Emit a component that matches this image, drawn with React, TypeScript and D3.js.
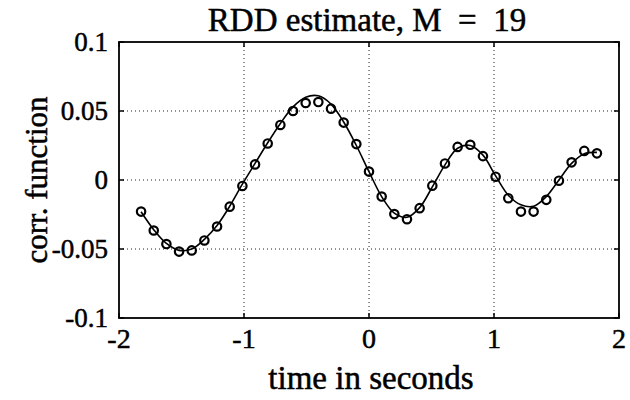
import React from "react";
import * as d3 from "d3";

const lags = d3.range(-18, 19);
const dt = 0.1013;
const estimate = [
  -0.0229, -0.0366, -0.0464, -0.0519, -0.051, -0.0438, -0.0337, -0.0193, -0.0043,
  0.0113, 0.0265, 0.0399, 0.05, 0.0558, 0.0565, 0.0517, 0.0416, 0.026, 0.0061,
  -0.012, -0.0247, -0.0284, -0.0204, -0.0041, 0.012, 0.024, 0.0255, 0.0173, 0.0024,
  -0.0132, -0.0229, -0.0229, -0.0144, -0.0005, 0.0128, 0.0211, 0.0193,
];
const theory = [
  -0.023, -0.036, -0.046, -0.051, -0.05, -0.043, -0.033, -0.019, -0.003,
  0.012, 0.027, 0.041, 0.053, 0.06, 0.061, 0.055, 0.042, 0.025, 0.006,
  -0.012, -0.024, -0.027, -0.02, -0.005, 0.011, 0.023, 0.025, 0.018, 0.003,
  -0.011, -0.018, -0.019, -0.012, 0.0, 0.012, 0.019, 0.020,
];
const xTicks = [-2, -1, 0, 1, 2];
const yTicks = [-0.1, -0.05, 0, 0.05, 0.1];
const yTickLabels = ["-0.1", "-0.05", "0", "0.05", "0.1"];
const title = "RDD estimate, M\u2002=\u200219";
const xLabel = "time in seconds";
const yLabel = "corr. function";

export default function App() {
  const W = 630, H = 400;
  const x = d3.scaleLinear().domain([-2, 2]).range([119, 619]);
  const y = d3.scaleLinear().domain([-0.1, 0.1]).range([318, 42]);
  const times = lags.map((k) => k * dt);
  const line = d3
    .line<number>()
    .x((_, i) => x(times[i]))
    .y((d) => y(d))
    .curve(d3.curveCatmullRom.alpha(0.5));
  const ts: React.CSSProperties = { fontFamily: "Liberation Serif, Times New Roman, serif" };
  const tl = 5;
  return (
    <svg width={W} height={H} style={{ position: "absolute", left: 0, top: 0, background: "#fff" }}>
      <rect x={0} y={0} width={W} height={H} fill="#fff" />
      {xTicks.slice(1, -1).map((t) => (
        <line key={"gx" + t} x1={x(t)} x2={x(t)} y1={y(0.1)} y2={y(-0.1)} stroke="#222" strokeWidth={1} strokeDasharray="1,3" />
      ))}
      {yTicks.slice(1, -1).map((t) => (
        <line key={"gy" + t} x1={x(-2)} x2={x(2)} y1={y(t)} y2={y(t)} stroke="#222" strokeWidth={1} strokeDasharray="1,3" />
      ))}
      {xTicks.map((t) => (
        <g key={"tx" + t}>
          <line x1={x(t)} x2={x(t)} y1={y(-0.1)} y2={y(-0.1) - tl} stroke="#000" strokeWidth={1.5} />
          <line x1={x(t)} x2={x(t)} y1={y(0.1)} y2={y(0.1) + tl} stroke="#000" strokeWidth={1.5} />
          <text x={x(t)} y={348} textAnchor="middle" fontSize={28} style={ts} stroke="#000" strokeWidth={0.5}>{t < 0 ? "-" + Math.abs(t) : String(t)}</text>
        </g>
      ))}
      {yTicks.map((t, i) => (
        <g key={"ty" + t}>
          <line x1={x(-2)} x2={x(-2) + tl} y1={y(t)} y2={y(t)} stroke="#000" strokeWidth={1.5} />
          <line x1={x(2)} x2={x(2) - tl} y1={y(t)} y2={y(t)} stroke="#000" strokeWidth={1.5} />
          <text x={108} y={y(t)} dy="0.35em" textAnchor="end" fontSize={27} style={ts} stroke="#000" strokeWidth={0.5}>{yTickLabels[i]}</text>
        </g>
      ))}
      <rect x={x(-2)} y={y(0.1)} width={x(2) - x(-2)} height={y(-0.1) - y(0.1)} fill="none" stroke="#000" strokeWidth={1.8} />
      <path d={line(theory) || ""} fill="none" stroke="#000" strokeWidth={1.6} />
      {estimate.map((v, i) => (
        <circle key={"c" + i} cx={x(times[i])} cy={y(v)} r={4.2} fill="none" stroke="#000" strokeWidth={2.2} />
      ))}
      <text x={367} y={31} textAnchor="middle" fontSize={33} style={ts} stroke="#000" strokeWidth={0.5}>{title}</text>
      <text x={371} y={389} textAnchor="middle" fontSize={33} style={ts} stroke="#000" strokeWidth={0.5}>{xLabel}</text>
      <text transform="translate(47,180) rotate(-90)" textAnchor="middle" fontSize={31} style={ts} stroke="#000" strokeWidth={0.5}>{yLabel}</text>
    </svg>
  );
}
